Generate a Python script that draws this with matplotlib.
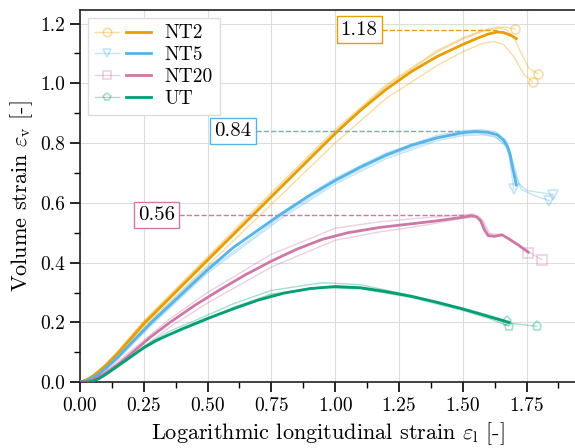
import matplotlib
matplotlib.use("Agg")
import matplotlib.pyplot as plt
from matplotlib.legend_handler import HandlerTuple
from matplotlib.ticker import MultipleLocator

plt.rcParams["font.family"] = "serif"
plt.rcParams["font.serif"] = ["cmr10"]
plt.rcParams["mathtext.fontset"] = "cm"
plt.rcParams["axes.formatter.use_mathtext"] = True
plt.rcParams["axes.unicode_minus"] = False

# mean curves
nt2_x = [0, 0.025, 0.05, 0.075, 0.10, 0.125, 0.15, 0.20, 0.25, 0.35, 0.50, 0.673, 0.85,
         1.01, 1.10, 1.20, 1.30, 1.40, 1.50, 1.56, 1.60, 1.635, 1.66, 1.69, 1.71]
nt2_y = [0, 0.007, 0.02, 0.036, 0.055, 0.076, 0.098, 0.146, 0.195, 0.28, 0.408, 0.555, 0.705,
         0.84, 0.91, 0.98, 1.04, 1.09, 1.13, 1.152, 1.165, 1.172, 1.17, 1.16, 1.15]
nt5_x = [0, 0.025, 0.05, 0.075, 0.10, 0.15, 0.20, 0.28, 0.40, 0.50, 0.60, 0.70, 0.784, 0.90,
         1.00, 1.10, 1.20, 1.30, 1.40, 1.50, 1.55, 1.60, 1.635, 1.66, 1.675, 1.685, 1.695,
         1.705, 1.71]
nt5_y = [0, 0.005, 0.015, 0.028, 0.045, 0.085, 0.13, 0.20, 0.296, 0.376, 0.45, 0.51, 0.56,
         0.625, 0.675, 0.72, 0.76, 0.793, 0.818, 0.835, 0.839, 0.836, 0.828, 0.81, 0.79, 0.765,
         0.72, 0.68, 0.66]
nt20_x = [0, 0.05, 0.10, 0.15, 0.20, 0.275, 0.353, 0.45, 0.55, 0.65, 0.75, 0.85, 0.95, 1.05,
          1.176, 1.30, 1.40, 1.50, 1.536, 1.555, 1.57, 1.585, 1.60, 1.625, 1.654, 1.68, 1.72,
          1.757]
nt20_y = [0, 0.008, 0.03, 0.06, 0.095, 0.15, 0.20, 0.257, 0.31, 0.36, 0.405, 0.445, 0.478,
          0.50, 0.518, 0.53, 0.54, 0.552, 0.557, 0.553, 0.54, 0.51, 0.49, 0.488, 0.493, 0.48,
          0.458, 0.435]
ut_x = [0, 0.025, 0.05, 0.075, 0.10, 0.15, 0.20, 0.25, 0.30, 0.40, 0.50, 0.60, 0.70, 0.80,
        0.90, 1.00, 1.10, 1.20, 1.30, 1.40, 1.50, 1.60, 1.68]
ut_y = [0, 0.0, 0.003, 0.012, 0.025, 0.055, 0.085, 0.115, 0.14, 0.178, 0.213, 0.245, 0.275,
        0.298, 0.313, 0.32, 0.316, 0.303, 0.287, 0.267, 0.245, 0.22, 0.20]

# individual specimens
nt2_a_x = [0, 0.05, 0.10, 0.15, 0.25, 0.50, 0.75, 1.00, 1.20, 1.40, 1.50, 1.58, 1.63, 1.67, 1.706]
nt2_a_y = [0, 0.022, 0.06, 0.105, 0.205, 0.42, 0.635, 0.845, 0.995, 1.11, 1.152, 1.178, 1.188,
           1.188, 1.182]
nt2_b_x = [0, 0.05, 0.10, 0.15, 0.25, 0.50, 0.75, 1.00, 1.20, 1.40, 1.50, 1.58, 1.64, 1.67,
           1.70, 1.73, 1.76, 1.795]
nt2_b_y = [0, 0.02, 0.057, 0.102, 0.2, 0.414, 0.628, 0.838, 0.99, 1.105, 1.148, 1.175, 1.185,
           1.18, 1.155, 1.10, 1.05, 1.032]
nt2_c_x = [0, 0.05, 0.10, 0.15, 0.25, 0.50, 0.75, 1.00, 1.20, 1.40, 1.50, 1.57, 1.62, 1.66,
           1.70, 1.74, 1.774]
nt2_c_y = [0, 0.017, 0.05, 0.09, 0.185, 0.39, 0.595, 0.8, 0.95, 1.06, 1.105, 1.132, 1.14, 1.13,
           1.09, 1.03, 1.005]

nt5_a_x = [0, 0.05, 0.10, 0.15, 0.28, 0.50, 0.784, 1.00, 1.20, 1.40, 1.50, 1.58, 1.63, 1.66,
           1.68, 1.69, 1.70]
nt5_a_y = [0, 0.013, 0.04, 0.078, 0.19, 0.365, 0.545, 0.663, 0.748, 0.808, 0.825, 0.828, 0.82,
           0.80, 0.77, 0.71, 0.645]
nt5_b_x = [0, 0.05, 0.10, 0.15, 0.28, 0.50, 0.784, 1.00, 1.20, 1.40, 1.50, 1.57, 1.63, 1.67,
           1.70, 1.72, 1.75, 1.80, 1.855]
nt5_b_y = [0, 0.016, 0.047, 0.088, 0.205, 0.385, 0.565, 0.683, 0.767, 0.826, 0.842, 0.845, 0.838,
           0.81, 0.73, 0.665, 0.642, 0.635, 0.628]
nt5_c_x = [0, 0.05, 0.10, 0.15, 0.28, 0.50, 0.784, 1.00, 1.20, 1.40, 1.50, 1.56, 1.62, 1.67,
           1.70, 1.73, 1.78, 1.84]
nt5_c_y = [0, 0.014, 0.042, 0.081, 0.195, 0.372, 0.552, 0.67, 0.755, 0.814, 0.83, 0.833, 0.826,
           0.79, 0.71, 0.645, 0.625, 0.607]

nt20_a_x = [0, 0.05, 0.10, 0.20, 0.353, 0.50, 0.75, 1.00, 1.176, 1.35, 1.50, 1.54, 1.57, 1.60,
            1.65, 1.70, 1.757]
nt20_a_y = [0, 0.01, 0.035, 0.105, 0.212, 0.30, 0.428, 0.515, 0.537, 0.55, 0.56, 0.563, 0.55,
            0.497, 0.495, 0.468, 0.432]
nt20_b_x = [0, 0.05, 0.10, 0.20, 0.353, 0.50, 0.75, 1.00, 1.176, 1.35, 1.50, 1.55, 1.58, 1.61,
            1.66, 1.72, 1.81]
nt20_b_y = [0, 0.007, 0.026, 0.085, 0.185, 0.265, 0.385, 0.475, 0.503, 0.525, 0.548, 0.553, 0.54,
            0.492, 0.49, 0.455, 0.41]

ut_a_x = [0, 0.05, 0.10, 0.15, 0.25, 0.35, 0.47, 0.60, 0.75, 0.95, 1.10, 1.30, 1.50, 1.60, 1.675]
ut_a_y = [0, 0.004, 0.027, 0.058, 0.12, 0.17, 0.213, 0.262, 0.307, 0.333, 0.326, 0.29, 0.248,
          0.225, 0.205]
ut_b_x = [0, 0.05, 0.10, 0.15, 0.25, 0.35, 0.47, 0.60, 0.75, 0.95, 1.10, 1.30, 1.50, 1.60, 1.68]
ut_b_y = [0, 0.002, 0.024, 0.052, 0.113, 0.158, 0.198, 0.248, 0.292, 0.316, 0.312, 0.283, 0.24,
          0.214, 0.188]
ut_c_x = [0, 0.05, 0.10, 0.15, 0.25, 0.35, 0.47, 0.60, 0.75, 0.95, 1.10, 1.30, 1.50, 1.60, 1.68,
          1.74, 1.79]
ut_c_y = [0, 0.003, 0.025, 0.055, 0.115, 0.16, 0.20, 0.25, 0.295, 0.319, 0.314, 0.286, 0.245,
          0.22, 0.198, 0.192, 0.187]

labels = ["NT2", "NT5", "NT20", "UT"]
colors = ["#E69F00", "#56B4E9", "#CC79A7", "#009E73"]
markers = ["o", "v", "s", "p"]
peaks = [1.18, 0.84, 0.56]
peak_x = [1.635, 1.55, 1.536]
box_x = [1.094, 0.60, 0.30]

means = [(nt2_x, nt2_y), (nt5_x, nt5_y), (nt20_x, nt20_y), (ut_x, ut_y)]
samples = [
    [(nt2_a_x, nt2_a_y), (nt2_b_x, nt2_b_y), (nt2_c_x, nt2_c_y)],
    [(nt5_a_x, nt5_a_y), (nt5_b_x, nt5_b_y), (nt5_c_x, nt5_c_y)],
    [(nt20_a_x, nt20_a_y), (nt20_b_x, nt20_b_y)],
    [(ut_a_x, ut_a_y), (ut_b_x, ut_b_y), (ut_c_x, ut_c_y)],
]

fig = plt.figure(figsize=(5.75, 4.48), dpi=100)
ax = fig.add_axes([0.139, 0.147, 0.861, 0.831])

handles = []
for i in range(4):
    for sx, sy in samples[i]:
        ax.plot(sx, sy, color=colors[i], alpha=0.35, lw=1, zorder=2)
        ax.plot(sx[-1], sy[-1], marker=markers[i], ms=6.5, mfc="none", mec=colors[i],
                mew=1.2, alpha=0.35, zorder=2)
    thick, = ax.plot(means[i][0], means[i][1], color=colors[i], lw=2, zorder=3)
    thin_h, = ax.plot([], [], color=colors[i], alpha=0.35, lw=1, marker=markers[i],
                      ms=6, mfc="none", mew=1.2)
    handles.append((thin_h, thick))

for i in range(3):
    ax.text(box_x[i], peaks[i], "%.2f" % peaks[i], fontsize=15, ha="center", va="center",
            bbox=dict(boxstyle="square,pad=0.2", fc="white", ec=colors[i], lw=1), zorder=5)
    ax.plot([box_x[i] + 0.09, peak_x[i]], [peaks[i], peaks[i]], ls="--", lw=1,
            color=colors[i], zorder=4)

ax.set_xlim(0, 1.94)
ax.set_ylim(0, 1.246)
ax.xaxis.set_major_locator(MultipleLocator(0.25))
ax.xaxis.set_minor_locator(MultipleLocator(0.125))
ax.yaxis.set_major_locator(MultipleLocator(0.2))
ax.yaxis.set_minor_locator(MultipleLocator(0.1))
ax.xaxis.set_major_formatter(plt.FormatStrFormatter("%.2f"))
ax.yaxis.set_major_formatter(plt.FormatStrFormatter("%.1f"))
ax.tick_params(which="major", direction="out", length=7, width=1.2, labelsize=14)
ax.tick_params(which="minor", direction="out", length=4, width=1)
ax.grid(True, which="major", color="#dddddd", lw=0.8, zorder=0)
ax.set_axisbelow(True)
ax.spines["right"].set_visible(False)
for s in ["left", "bottom", "top"]:
    ax.spines[s].set_linewidth(1.2)
    ax.spines[s].set_color("#222222")

ax.set_xlabel(r"Logarithmic longitudinal strain $\varepsilon_\mathrm{l}$ [-]", fontsize=16)
ax.set_ylabel(r"Volume strain $\varepsilon_\mathrm{v}$ [-]", fontsize=16)

leg = ax.legend(handles, labels, handler_map={tuple: HandlerTuple(ndivide=None, pad=0.35)},
                loc="upper left", fontsize=14, handlelength=2.9, handletextpad=0.7,
                fancybox=False, framealpha=1, edgecolor="#dddddd", borderaxespad=0.4,
                borderpad=0.35, labelspacing=0.2)

fig.savefig("out.png", dpi=100)
